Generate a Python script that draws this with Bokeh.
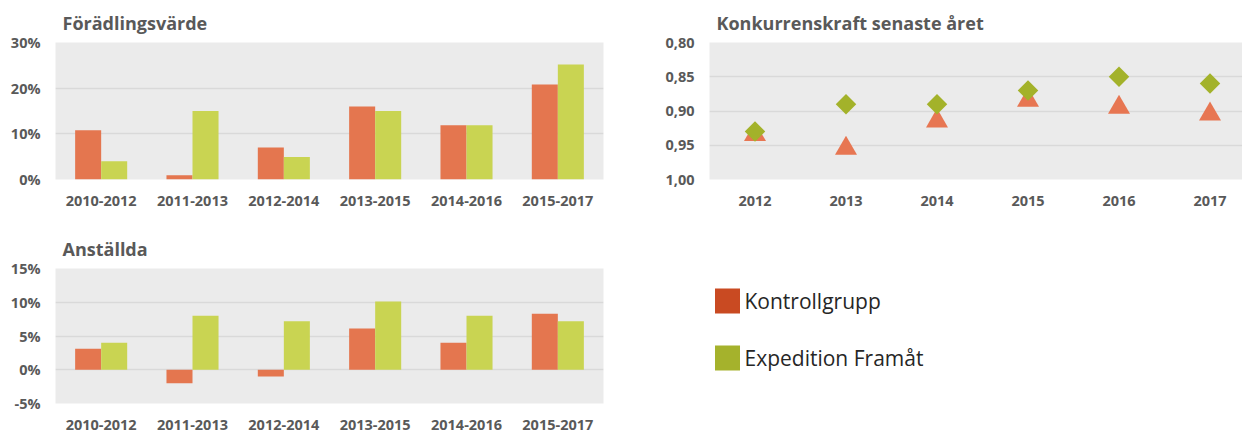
import math
from bokeh.plotting import figure
from bokeh.models import Range1d, FactorRange, FixedTicker, PrintfTickFormatter, ColumnDataSource
from bokeh.transform import dodge
from bokeh.layouts import row, column
from bokeh.embed import file_html
from bokeh.resources import INLINE
from bokeh.core.properties import value

# ---------------- data ----------------
periods = ["2010-2012", "2011-2013", "2012-2014", "2013-2015", "2014-2016", "2015-2017"]
foradling_kontroll = [10.8, 0.95, 7.0, 16.0, 11.9, 20.8]
foradling_expedition = [4.0, 15.0, 4.9, 15.0, 11.9, 25.2]
anstallda_kontroll = [3.1, -2.0, -1.0, 6.1, 4.0, 8.3]
anstallda_expedition = [4.0, 8.0, 7.2, 10.1, 8.0, 7.2]

years = [2012, 2013, 2014, 2015, 2016, 2017]
konk_kontroll = [0.93, 0.95, 0.91, 0.88, 0.89, 0.90]
konk_expedition = [0.93, 0.89, 0.89, 0.87, 0.85, 0.86]
konk_ticks = [0.80, 0.85, 0.90, 0.95, 1.00]
konk_tick_labels = ["0,80", "0,85", "0,90", "0,95", "1,00"]

foradling_ticks = [0, 10, 20, 30]
anstallda_ticks = [-5, 0, 5, 10, 15]

series_names = ["Kontrollgrupp", "Expedition Framåt"]

# ---------------- style ----------------
BAR_K = "#E4764F"
BAR_E = "#C9D452"
TRI_K = "#E77652"
DIA_E = "#A3B22A"
LEG_COLORS = ["#C94A22", "#A5B22C"]
BG = "#EBEBEB"
GRID = "#D9D9D9"
TXT = "#595959"
FONT = "Open Sans"


def style(p, yticks, x_standoff):
    p.background_fill_color = BG
    p.border_fill_color = "white"
    p.outline_line_color = None
    p.xgrid.grid_line_color = None
    p.ygrid.grid_line_color = GRID
    p.ygrid.grid_line_width = 1.5
    p.ygrid.ticker = FixedTicker(ticks=yticks)
    p.yaxis.ticker = FixedTicker(ticks=yticks)
    for ax in (p.xaxis, p.yaxis):
        ax.axis_line_color = None
        ax.major_tick_line_color = None
        ax.minor_tick_line_color = None
        ax.major_tick_out = 0
        ax.major_tick_in = 0
        ax.major_label_text_font = FONT
        ax.major_label_text_font_style = "bold"
        ax.major_label_text_font_size = "14.5px"
        ax.major_label_text_color = TXT
    p.yaxis.major_label_standoff = 15
    p.xaxis.major_label_standoff = x_standoff
    p.title.text_font = FONT
    p.title.text_font_style = "bold"
    p.title.text_font_size = "18px"
    p.title.text_color = TXT
    p.title.align = "left"
    p.title.offset = 7
    p.title.standoff = 15


def bar_chart(title, kontroll, expedition, y0, y1, yticks, height, bottom, x_standoff):
    src = ColumnDataSource(dict(period=periods, k=kontroll, e=expedition))
    p = figure(x_range=FactorRange(*periods), y_range=Range1d(y0, y1),
               width=620, height=height, title=title,
               output_backend="svg", toolbar_location=None,
               min_border_left=55, min_border_right=17,
               min_border_top=42, min_border_bottom=bottom)
    p.vbar(x=dodge("period", -0.1425, range=p.x_range), top="k", bottom=0, width=0.285,
           source=src, fill_color=BAR_K, line_color=None)
    p.vbar(x=dodge("period", 0.1425, range=p.x_range), top="e", bottom=0, width=0.285,
           source=src, fill_color=BAR_E, line_color=None)
    style(p, yticks, x_standoff)
    p.yaxis.formatter = PrintfTickFormatter(format="%d%%")
    return p


p1 = bar_chart("Förädlingsvärde", foradling_kontroll, foradling_expedition,
               0, 30, foradling_ticks, 226, 47, 16)
p3 = bar_chart("Anställda", anstallda_kontroll, anstallda_expedition,
               -5, 15, anstallda_ticks, 206, 29, 16)

# ---------------- scatter chart ----------------
ksrc = ColumnDataSource(dict(year=years, k=konk_kontroll, e=konk_expedition))
p2 = figure(x_range=Range1d(2011.5, 2017.357), y_range=Range1d(1.0, 0.8),
            width=622, height=226, title="Konkurrenskraft senaste året",
            output_backend="svg", toolbar_location=None,
            min_border_left=89, min_border_right=0,
            min_border_top=42, min_border_bottom=47)
p2.scatter(x="year", y=dodge("k", 0.0047, range=p2.y_range), marker="triangle", size=22,
           source=ksrc, fill_color=TRI_K, line_color=None)
p2.scatter(x="year", y="e", marker="square", angle=math.pi / 4, size=14.5,
           source=ksrc, fill_color=DIA_E, line_color=None)
style(p2, konk_ticks, 16)
p2.xaxis.ticker = FixedTicker(ticks=years)
p2.yaxis.major_label_overrides = dict(zip(konk_ticks, konk_tick_labels))

# ---------------- legend panel (frame spans page pixels 709..1242 x 268..403) ----------------
p4 = figure(width=622, height=206, x_range=Range1d(709, 1242), y_range=Range1d(403, 268),
            x_axis_type=None, y_axis_type=None,
            output_backend="svg", toolbar_location=None,
            min_border_left=89, min_border_right=0, min_border_top=42, min_border_bottom=29)
p4.outline_line_color = None
p4.grid.visible = False
lsrc = ColumnDataSource(dict(label=series_names, color=LEG_COLORS,
                             sx=[727, 727], sy=[300.5, 357.5], tx=[744, 744]))
p4.scatter(x="sx", y="sy", marker="square", size=25, fill_color="color",
           line_color=None, source=lsrc)
p4.text(x="tx", y="sy", text="label", source=lsrc, text_font=value(FONT),
        text_font_size="21px", text_baseline="middle", text_color="#262626")

layout = row(column(p1, p3), column(p2, p4))

with open("out.html", "w") as f:
    f.write(file_html(layout, INLINE))
